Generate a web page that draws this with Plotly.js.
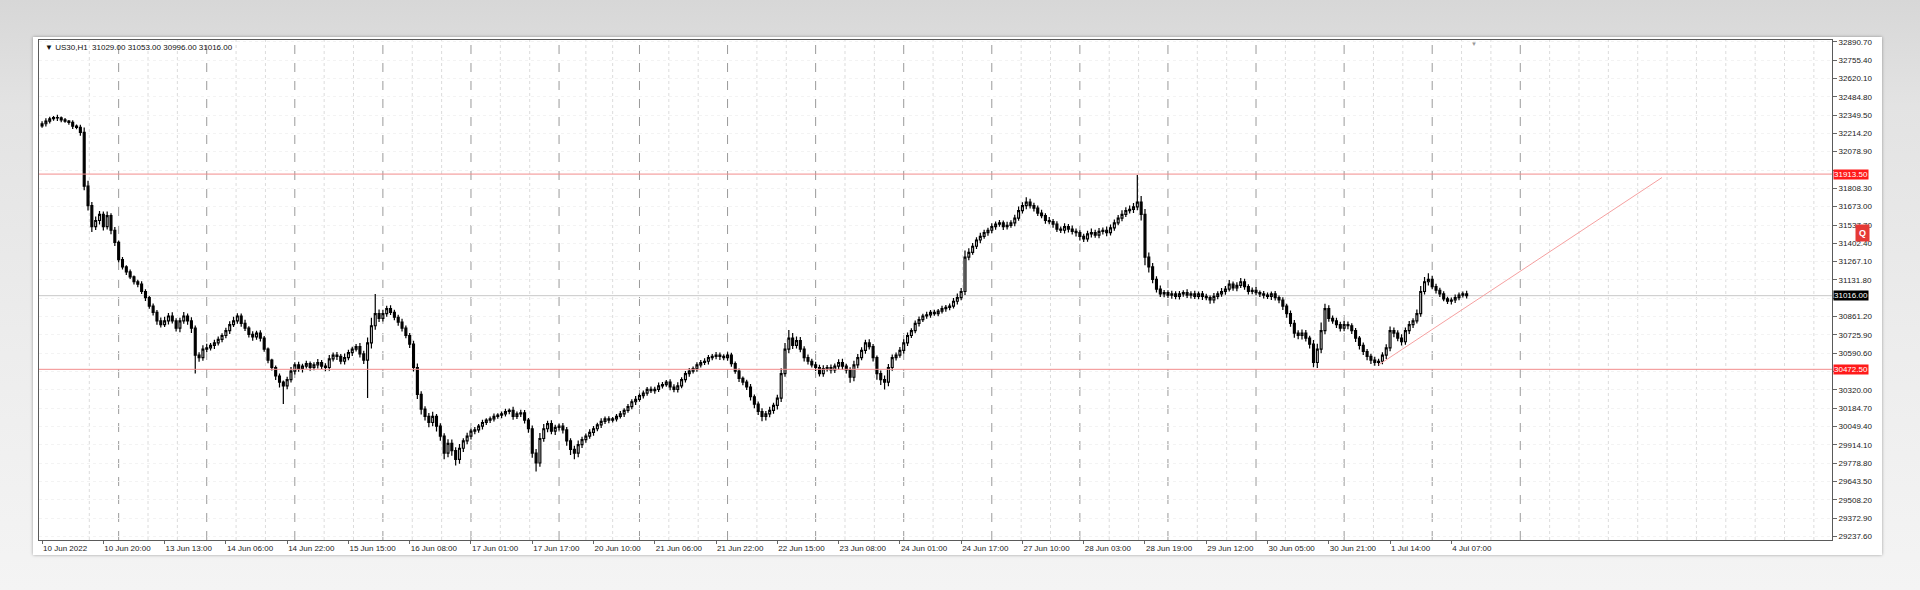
<!DOCTYPE html>
<html><head><meta charset="utf-8">
<script src="https://cdn.plot.ly/plotly-3.0.1.min.js"></script>
<style>
html,body{margin:0;padding:0;width:1920px;height:590px;overflow:hidden;background:linear-gradient(to bottom,#d7d7d7 0%,#e3e3e3 18%,#ededed 60%,#f4f4f4 100%);}
#panel{position:absolute;left:33px;top:37px;width:1849px;height:518px;background:#fff;box-shadow:0 0 3px rgba(0,0,0,0.35);}
#chart{position:absolute;left:0;top:0;width:1920px;height:590px;}
</style></head><body>
<div id="panel"></div><div id="chart"></div>
<script>
const symbol = "US30,H1";
const firstOpen = 32270;
const closes = [
32285,32304,32322,32331,32328,32313,32304,32295,32267,32258,32222,31824,31680,31526,31571,31616,31526,31607,31499,31409,
31282,31228,31192,31155,31119,31101,31047,31002,30939,30893,30830,30803,30830,30866,30830,30776,30830,30866,30830,30776,
30577,30559,30622,30631,30649,30667,30694,30722,30758,30803,30830,30866,30812,30776,30731,30712,30740,30703,30622,30541,
30486,30423,30378,30351,30396,30459,30505,30477,30496,30514,30486,30505,30523,30496,30486,30550,30577,30568,30532,30559,
30595,30622,30640,30586,30541,30667,30794,30884,30848,30884,30920,30893,30857,30821,30776,30722,30658,30486,30288,30179,
30125,30080,30125,30053,29980,29854,29926,29872,29808,29890,29944,29980,30016,30025,30053,30080,30098,30107,30125,30134,
30143,30161,30170,30125,30143,30152,30098,30034,29854,29781,29962,30034,30071,30016,30044,30053,30025,29944,29881,29854,
29917,29953,29980,30007,30034,30062,30089,30107,30098,30107,30125,30143,30170,30197,30233,30251,30279,30297,30324,30315,
30324,30351,30360,30378,30342,30324,30351,30396,30441,30459,30477,30505,30523,30532,30559,30568,30577,30568,30559,30577,
30514,30459,30405,30378,30342,30270,30215,30161,30125,30143,30170,30206,30260,30441,30622,30703,30649,30685,30622,30559,
30532,30505,30486,30441,30477,30486,30468,30496,30523,30496,30468,30414,30505,30559,30613,30667,30640,30559,30441,30396,
30378,30486,30559,30577,30613,30667,30722,30758,30812,30839,30866,30875,30893,30884,30902,30920,30929,30939,30975,31002,
31047,31300,31336,31381,31427,31454,31481,31499,31526,31544,31553,31526,31535,31553,31589,31644,31680,31707,31680,31662,
31626,31607,31571,31562,31544,31508,31499,31526,31508,31490,31481,31454,31436,31472,31481,31463,31490,31499,31481,31517,
31553,31589,31616,31644,31653,31671,31707,31616,31300,31228,31137,31065,31029,31038,31020,31029,31011,31029,31038,31020,
31029,31011,31029,31011,31002,30984,31011,31029,31047,31065,31101,31074,31092,31119,31083,31047,31056,31038,31029,31020,
31011,31029,31002,30984,30939,30884,30812,30740,30722,30740,30703,30658,30523,30622,30758,30920,30848,30830,30803,30776,
30803,30794,30758,30703,30649,30604,30568,30541,30523,30532,30577,30631,30758,30740,30703,30676,30758,30803,30830,30884,
31047,31119,31137,31083,31056,31029,30993,30975,30984,31002,31020,31029,31016];
const wickUp = [
18,22,15,12,20,10,14,9,16,12,20,35,40,28,30,25,22,30,18,24,
15,20,12,18,10,14,22,16,12,20,18,25,30,22,28,20,24,30,18,26,
20,22,28,30,18,24,20,16,22,25,30,20,18,26,14,22,18,20,15,12,
10,14,18,12,22,30,20,24,18,22,16,20,25,18,22,28,20,24,18,30,
22,18,20,26,24,40,60,145,30,28,22,25,20,18,24,20,18,25,30,22,
20,26,35,18,22,20,30,28,25,32,20,24,18,22,16,20,14,18,22,15,
18,20,14,26,18,22,20,16,24,30,40,35,22,26,20,18,24,22,20,28,
30,22,18,24,20,16,22,18,20,14,18,22,16,20,18,24,15,20,18,22,
20,24,18,16,22,20,26,18,20,24,16,20,18,22,20,18,24,20,16,22,
18,16,20,14,18,22,16,20,24,22,26,20,24,40,45,60,38,30,26,20,
22,18,24,20,26,18,22,20,24,28,18,20,30,26,22,24,28,20,16,22,
30,26,22,20,24,28,22,18,20,24,16,22,18,20,16,22,18,20,24,30,
26,50,30,24,20,26,22,18,24,20,22,18,26,20,24,30,26,35,24,22,
20,24,18,26,20,22,18,24,20,26,22,18,20,24,30,22,26,20,28,24,
26,22,30,24,28,30,200,45,40,35,30,22,26,20,18,24,20,22,18,26,
20,24,18,22,20,16,24,20,26,22,30,20,24,28,22,18,20,24,16,22,
20,18,22,16,20,18,22,24,20,26,22,18,30,40,60,36,26,22,24,20,
26,22,18,20,16,22,18,20,24,18,22,26,30,24,20,28,24,26,20,30,
40,35,45,26,22,18,20,16,18,22,20,18,24];
const wickDown = [
15,20,18,14,22,16,12,18,20,14,25,30,35,40,25,30,28,22,30,26,
20,18,24,16,20,22,18,25,20,24,28,22,18,26,20,24,30,22,28,35,
135,30,24,22,20,26,18,22,20,24,18,22,26,20,24,28,22,26,20,24,
22,30,40,135,26,20,24,22,28,18,24,20,26,22,28,24,20,26,22,24,
20,24,18,26,30,280,40,30,26,22,24,20,22,26,24,20,28,30,35,40,
30,35,28,40,35,45,30,38,45,32,28,24,26,22,20,24,18,22,20,18,
22,18,20,24,20,22,26,30,35,63,28,24,26,22,28,24,26,35,40,45,
30,26,22,20,24,18,22,20,24,18,20,16,22,18,20,24,18,22,20,18,
22,18,20,16,24,20,22,18,20,24,18,22,20,18,24,20,22,26,20,24,
22,20,26,24,22,28,30,26,35,30,24,26,30,28,24,30,26,22,24,28,
24,20,26,22,24,20,26,22,24,28,26,40,30,24,20,26,22,28,45,40,
55,30,24,22,20,26,22,18,20,24,18,20,22,16,20,18,22,20,18,24,
20,26,22,18,20,24,18,22,20,24,20,26,22,18,24,20,22,26,20,24,
22,20,24,18,26,22,20,24,26,22,28,30,24,22,26,20,24,22,26,20,
22,18,24,20,22,26,24,45,60,40,30,26,22,24,20,26,22,24,20,22,
24,20,22,26,20,28,24,22,20,24,18,22,26,20,24,22,20,18,22,24,
20,26,22,24,28,30,26,35,28,30,26,32,36,40,30,26,24,22,26,24,
22,26,24,28,30,26,28,30,24,26,22,28,26,30,24,28,22,24,26,20,
24,22,28,20,24,22,18,20,24,22,20,18,20];
const xTickBars = [0,16,32,48,64,80,96,112,128,144,160,176,192,208,224,240,256,272,288,304,320,336,352,368];
const xTickLabels = ["10 Jun 2022","10 Jun 20:00","13 Jun 13:00","14 Jun 06:00","14 Jun 22:00","15 Jun 15:00",
"16 Jun 08:00","17 Jun 01:00","17 Jun 17:00","20 Jun 10:00","21 Jun 06:00","21 Jun 22:00","22 Jun 15:00",
"23 Jun 08:00","24 Jun 01:00","24 Jun 17:00","27 Jun 10:00","28 Jun 03:00","28 Jun 19:00","29 Jun 12:00",
"30 Jun 05:00","30 Jun 21:00","1 Jul 14:00","4 Jul 07:00"];
const yTickValues = [32890.70,32755.40,32620.10,32484.80,32349.50,32214.20,32078.90,31943.60,31808.30,31673.00,
31537.70,31402.40,31267.10,31131.80,30996.50,30861.20,30725.90,30590.60,30455.30,30320.00,30184.70,30049.40,
29914.10,29778.80,29643.50,29508.20,29372.90,29237.60];
const levels = [31913.5, 30472.5];
const trendBars = [349, 423];
const trendPrices = [30505, 31888];
const separatorBars = [20,43,66,89,112,135,156,179,202,225,248,271,294,317,340,363,386];
const zoomIconPrice = 31479;

const n = closes.length;
const idx = closes.map((_, i) => i);
const opens = closes.map((c, i) => i === 0 ? firstOpen : closes[i - 1]);
const highs = closes.map((c, i) => Math.max(opens[i], c) + wickUp[i]);
const lows = closes.map((c, i) => Math.min(opens[i], c) - wickDown[i]);
const last = n - 1;
const lastPrice = closes[last];

// tick labels hidden under the price-label boxes (as in the terminal)
const labelPrices = levels.concat([lastPrice]);
const yTickText = yTickValues.map(v => labelPrices.some(p => Math.abs(p - v) < 70) ? '' : v.toFixed(2));

const font = 'Liberation Sans, Arial, sans-serif';
const shapes = [];
const gridPos = [];
for (let k = 0; k < separatorBars.length; k++) {
  const a = separatorBars[k];
  const b = k + 1 < separatorBars.length ? separatorBars[k + 1] : a + 23;
  gridPos.push(a + (b - a) / 3, a + 2 * (b - a) / 3);
}
gridPos.push(separatorBars[0] - 23 / 3);
let g = separatorBars[separatorBars.length - 1] + 23;
while (g < 468) { gridPos.push(g, g + 23 / 3, g + 46 / 3); g += 23; }
gridPos.forEach(x => shapes.push({type:'line', xref:'x', yref:'paper', x0:x, x1:x, y0:0, y1:1, layer:'below',
  line:{color:'#dcdcdc', width:1, dash:'dot'}}));
separatorBars.forEach(x => shapes.push({type:'line', xref:'x', yref:'paper', x0:x, x1:x, y0:0, y1:1, layer:'below',
  line:{color:'#9a9a9a', width:1, dash:'dash'}}));
shapes.push({type:'line', xref:'paper', yref:'y', x0:0, x1:1, y0:lastPrice, y1:lastPrice, layer:'below',
  line:{color:'#c8c8c8', width:1}});
levels.forEach(v => shapes.push({type:'line', xref:'paper', yref:'y', x0:0, x1:1, y0:v, y1:v, layer:'above',
  line:{color:'#f28c8c', width:1}}));

const annotations = [];
annotations.push({xref:'paper', yref:'paper', x:0, y:1, xanchor:'left', yanchor:'top', xshift:4, yshift:-1,
  showarrow:false, font:{family:font, size:8, color:'#111'},
  text:'▼ ' + symbol + '  ' + opens[last].toFixed(2) + ' ' + highs[last].toFixed(2) + ' ' + lows[last].toFixed(2) + ' ' + lastPrice.toFixed(2)});
levels.forEach(v => annotations.push({xref:'paper', yref:'y', x:1, y:v, xanchor:'left', yanchor:'middle', xshift:1,
  showarrow:false, text:v.toFixed(2), bgcolor:'#ff1a1a', borderpad:0, font:{family:font, size:8, color:'#fff'}}));
annotations.push({xref:'paper', yref:'y', x:1, y:lastPrice, xanchor:'left', yanchor:'middle', xshift:1,
  showarrow:false, text:lastPrice.toFixed(2), bgcolor:'#000', borderpad:0, font:{family:font, size:8, color:'#fff'}});
annotations.push({xref:'paper', yref:'y', x:1, y:zoomIconPrice, xanchor:'left', yanchor:'middle', xshift:23,
  showarrow:false, text:'<b>Q</b>', bgcolor:'#e53935', borderpad:3, font:{family:font, size:9, color:'#fff'}});
annotations.push({xref:'x', yref:'paper', x:374, y:1, xanchor:'center', yanchor:'top', yshift:1,
  showarrow:false, text:'▼', font:{size:6, color:'#999'}});

const traces = [
  {type:'candlestick', x:idx, open:opens, high:highs, low:lows, close:closes, whiskerwidth:0,
   increasing:{line:{color:'#000', width:1.2}, fillcolor:'#ffffff'},
   decreasing:{line:{color:'#000', width:1.2}, fillcolor:'#000000'},
   hoverinfo:'skip', showlegend:false},
  {type:'scatter', mode:'lines', x:trendBars, y:trendPrices, line:{color:'#f5a0a0', width:1},
   hoverinfo:'skip', showlegend:false}
];

const layout = {
  width:1920, height:590,
  margin:{l:39, r:88, t:40, b:50},
  paper_bgcolor:'rgba(0,0,0,0)', plot_bgcolor:'#ffffff',
  showlegend:false,
  font:{family:font, size:8, color:'#222'},
  xaxis:{range:[-0.8, 467.4], tickmode:'array', tickvals:xTickBars, ticktext:xTickLabels,
    ticks:'outside', ticklen:3, tickcolor:'#666', ticklabelposition:'outside right',
    showgrid:false, zeroline:false, showline:true, mirror:true, linecolor:'#5a5a5a', linewidth:1,
    rangeslider:{visible:false}, fixedrange:true, tickfont:{family:font, size:8, color:'#222'}},
  yaxis:{side:'right', range:[29212.7, 32903.2], tickmode:'array', tickvals:yTickValues,
    ticktext:yTickText, ticks:'outside', ticklen:4, tickcolor:'#666',
    showgrid:true, gridcolor:'#f3f3f3', griddash:'dot', zeroline:false, showline:true, mirror:true,
    linecolor:'#5a5a5a', linewidth:1, fixedrange:true, tickfont:{family:font, size:8, color:'#222'}},
  shapes:shapes, annotations:annotations
};
Plotly.newPlot('chart', traces, layout, {displayModeBar:false, staticPlot:true});
</script>
</body></html>
